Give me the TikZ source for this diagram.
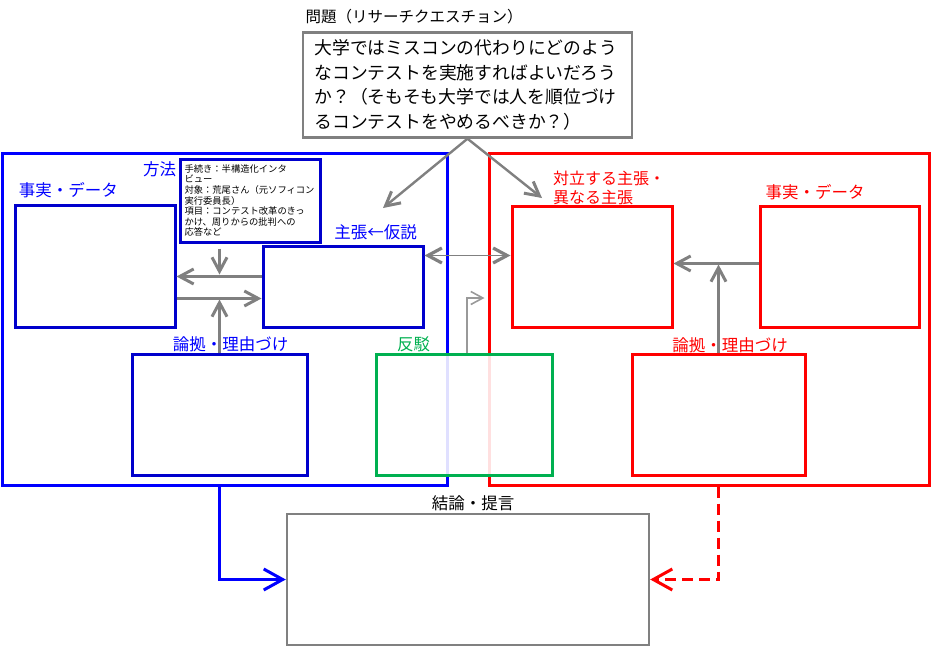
\documentclass[tikz,border=0pt]{standalone}
\usepackage{fontspec}
\setmainfont{Noto Sans CJK JP}
\usetikzlibrary{calc, arrows.meta}
\definecolor{frameblue}{RGB}{0,0,255}
\definecolor{boxblue}{RGB}{0,0,204}
\definecolor{boxred}{RGB}{255,0,0}
\definecolor{boxgreen}{RGB}{0,176,80}
\definecolor{linegray}{RGB}{128,128,128}
\newcommand{\lblfont}{\fontsize{16.5}{18}\selectfont}
\newcommand{\qfont}{\fontsize{17.8}{24.5}\selectfont}
\newcommand{\procfont}{\fontsize{9.3}{10.6}\selectfont}

\begin{document}
\begin{tikzpicture}[
    x=1pt, y=-1pt,
    every node/.style={rectangle},
    framebox/.style={draw, line width=3pt},
    bluebox/.style={draw=boxblue, line width=3pt},
    redbox/.style={draw=boxred, line width=3pt},
    graybox/.style={draw=linegray, line width=2.4pt, fill=white},
    boxtitle/.style={inner sep=0pt, font=\lblfont},
    arrow/.style={-{Straight Barb[length=14pt, width=15pt]}, line width=3pt, draw=linegray},
    qarrow/.style={-{Straight Barb[length=14pt, width=15pt, line width'=3pt]}, line width=2.4pt, draw=linegray},
    biarrow/.style={{Straight Barb[length=14pt, width=15pt, line width'=3.2pt]}-{Straight Barb[length=14pt, width=15pt, line width'=3.2pt]}, line width=1.8pt, draw=linegray},
    thinarrow/.style={-{Straight Barb[length=12pt, width=13pt]}, line width=1.6pt, draw=linegray!80},
    bluearrow/.style={-{Straight Barb[length=19pt, width=21pt]}, line width=3pt, draw=frameblue},
    redarrow/.style={-{Straight Barb[length=19pt, width=21pt]}, line width=3pt, draw=boxred, dash pattern=on 11pt off 6pt}
]
\useasboundingbox (0,0) rectangle (932,648);

\node[framebox, draw=frameblue, minimum width=445pt, minimum height=332pt] (bframe) at (224.5,319) {};
\node[framebox, draw=boxred, minimum width=440pt, minimum height=332pt] (rframe) at (709,319) {};

\node[graybox, minimum width=329pt, minimum height=105pt, text width=306pt, align=left, font=\qfont] (problem) at (467.5,85) {大学ではミスコンの代わりにどのよう\\なコンテストを実施すればよいだろう\\か？（そもそも大学では人を順位づけ\\るコンテストをやめるべきか？）};
\node[boxtitle, font=\fontsize{15.5}{18}\selectfont] (tproblem) at (414,17) {問題（リサーチクエスチョン）};

\node[bluebox, minimum width=160pt, minimum height=122pt] (bfact) at (95,266) {};
\node[bluebox, minimum width=160pt, minimum height=81pt] (bclaim) at (343,286.5) {};
\node[bluebox, minimum width=140pt, minimum height=83pt, text width=131pt, align=left, font=\procfont] (bproc) at (250,200.5) {手続き：半構造化インタ\\ビュー\\対象：荒尾さん（元ソフィコン\\実行委員長）\\項目：コンテスト改革のきっ\\かけ、周りからの批判への\\応答など};
\node[bluebox, minimum width=175pt, minimum height=121pt] (bwarrant) at (219.5,414.5) {};

\node[redbox, minimum width=160pt, minimum height=121pt] (rclaim) at (592,266.5) {};
\node[redbox, minimum width=159pt, minimum height=121pt] (rfact) at (839.5,266.5) {};
\node[redbox, minimum width=173pt, minimum height=121pt] (rwarrant) at (718.5,414.5) {};

\node[draw=boxgreen, line width=3pt, fill=white, fill opacity=0.88, minimum width=176pt, minimum height=121pt] (rebut) at (464,414.5) {};

\node[graybox, minimum width=362pt, minimum height=131pt] (concl) at (468,579.5) {};

\node[boxtitle, text=frameblue] (tmethod) at (159.5,169) {方法};
\node[boxtitle, text=frameblue] (tbfact) at (68.5,190) {事実・データ};
\node[boxtitle, text=frameblue] (tbclaim) at (375.5,232) {主張←仮説};
\node[boxtitle, text=frameblue] (tbwarrant) at (230.5,344) {論拠・理由づけ};
\node[boxtitle, text=boxgreen] (trebut) at (413.5,344) {反駁};
\node[boxtitle, text=boxred, align=left, anchor=west, font=\fontsize{16}{19}\selectfont] (trclaim) at (553,187.5) {対立する主張・\\異なる主張};
\node[boxtitle, text=boxred] (trfact) at (815,192) {事実・データ};
\node[boxtitle, text=boxred] (trwarrant) at (730,345) {論拠・理由づけ};
\node[boxtitle] (tconcl) at (473,503) {結論・提言};

\coordinate (qleft) at (383,208);
\coordinate (qright) at (542,198);

\draw[qarrow] (problem.south) -- (qleft);
\draw[qarrow] (problem.south) -- (qright);

\draw[arrow] ($(bclaim.west)+(0,-10)$) -- ($(bfact.east |- bclaim.west)+(0,-10)$);
\draw[arrow] ($(bfact.east |- bclaim.west)+(0,12)$) -- ($(bclaim.west)+(0,12)$);
\draw[arrow] ($(bproc.south -| bwarrant.north)+(0,5)$) -- ($(bwarrant.north |- bclaim.west)+(0,-12)$);
\draw[arrow] (bwarrant.north) -- ($(bwarrant.north |- bclaim.west)+(0,13)$);

\draw[arrow] ($(rfact.west)+(0,-3)$) -- ($(rclaim.east)+(0,-3)$);
\draw[arrow] (rwarrant.north) -- ($(rwarrant.north |- rfact.west)+(0,-2)$);

\draw[biarrow] ($(bclaim.east)+(0,-31)$) -- ($(rclaim.west |- bclaim.east)+(0,-31)$);
\draw[thinarrow] ($(rebut.north)+(3,0)$) |- ($(rframe.west)+(-3,-21)$);

\draw[bluearrow] (bframe.south -| bwarrant.north) |- (concl.west);
\draw[redarrow] (rframe.south -| rwarrant.north) |- (concl.east);
\end{tikzpicture}
\end{document}
